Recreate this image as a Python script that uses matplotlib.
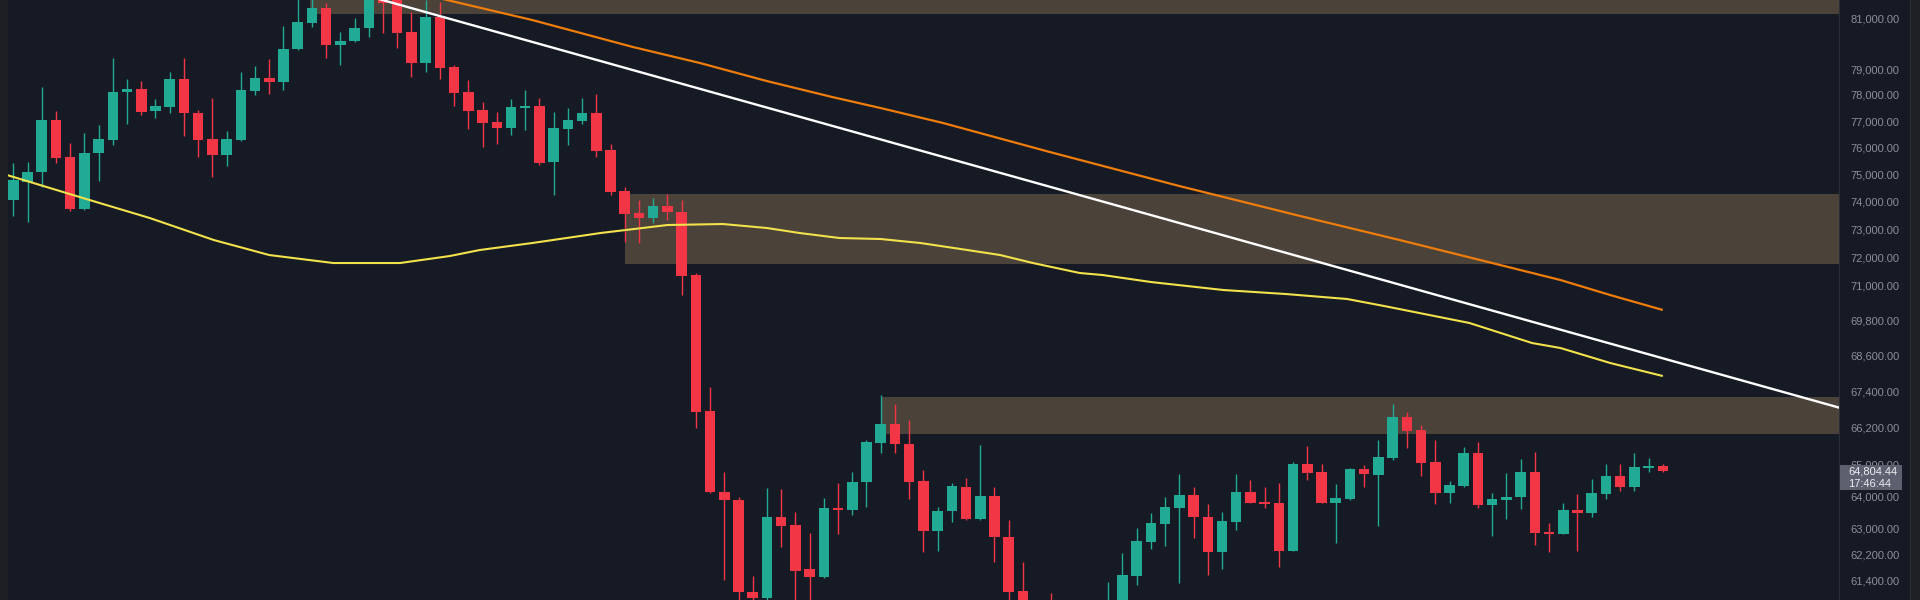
import matplotlib
matplotlib.use("Agg")
import matplotlib.pyplot as plt
from matplotlib.patches import Rectangle
from matplotlib.ticker import FixedLocator, NullLocator

plt.rcParams['font.family'] = ['Liberation Sans', 'DejaVu Sans']

# ---------------- data ----------------
opens = [74063, 74723, 75092, 77040, 75649, 73735, 75798, 76285, 78110, 78226,
         77383, 77536, 78612, 77307, 76323, 75723, 76285, 78149, 78651, 78496,
         79781, 80812, 81413, 79939, 80098, 80613, 82100, 81780, 80454, 79234,
         81052, 79078, 78110, 77421, 76964, 76737, 77497, 77574, 75463, 76700,
         77002, 77307, 75910, 74392, 73590, 73409, 73845, 73627, 71377, 66750,
         64139, 63887, 61056, 60875, 63354, 63104, 61752, 61509, 63636, 63573,
         64456, 65706, 66324, 65673, 64487, 62918, 63541, 64296, 63291, 64012,
         62733, 61086, 60400, 60600, 60250, 60500, 60300, 60400, 60700, 61539,
         62578, 63135, 63636, 64044, 63354, 62271, 63198, 64139, 63824, 63792,
         62302, 65030, 64774, 63792, 63918, 64870, 64678, 65222, 66553, 66128,
         65094, 64107, 64328, 65383, 63729, 63887, 63981, 64774, 62887, 62825,
         63573, 63479, 64075, 64646, 64296, 64902, 64966]
highs = [75425, 75463, 78303, 77383, 76172, 76549, 76851, 79429, 78612, 78534,
         77841, 78884, 79429, 77421, 77880, 76624, 78884, 79117, 79390, 80692,
         81860, 81820, 81615, 80454, 81012, 82400, 82500, 81900, 81253, 81735,
         81655, 79156, 78573, 77726, 77345, 77841, 78187, 77880, 77345, 77497,
         77880, 78033, 76135, 74539, 74063, 74136, 74282, 74063, 71450, 67545,
         64774, 63981, 61539, 64265, 64233, 63510, 62856, 63950, 64424, 64774,
         65803, 67279, 66981, 66455, 64838, 63667, 64424, 64583, 65641, 64296,
         63260, 61965, 60700, 61025, 60700, 60750, 60780, 61358, 62240, 63011,
         63479, 63981, 64710, 64296, 63761, 63510, 64710, 64519, 64296, 64424,
         65094, 65609, 65030, 64392, 64902, 64998, 65803, 66981, 66717, 66291,
         65803, 64487, 65576, 65738, 64107, 64742, 65190, 65415, 63166, 63792,
         64075, 64551, 65030, 65030, 65383, 65222, 65030]
lows = [73482, 73265, 74539, 75425, 73680, 73700, 74760, 76097, 76889, 77231,
        77116, 77307, 76436, 75649, 74908, 75314, 76250, 77995, 78033, 78187,
        79742, 80652, 79429, 79156, 80060, 80256, 80415, 79821, 78689, 78884,
        78612, 77574, 76700, 76022, 76135, 76473, 76662, 75351, 74246, 76097,
        76889, 75649, 74246, 72547, 72511, 73229, 73337, 70676, 66193, 64107,
        61418, 60600, 60700, 60700, 62424, 60500, 60550, 61480, 62825, 63416,
        63667, 65383, 65383, 63918, 62271, 62302, 63198, 63260, 63260, 61965,
        60650, 60100, 59900, 59950, 60000, 60050, 60150, 60250, 60450, 61267,
        62363, 62455, 61327, 62702, 61570, 61751, 62949, 63780, 63636, 61812,
        62290, 64519, 63780, 62547, 63900, 64296, 63073, 65158, 65544, 64646,
        63761, 63792, 64296, 63636, 62764, 63291, 63604, 62486, 62271, 62810,
        62302, 63354, 63918, 64170, 64170, 64774, 64760]
closes = [74797, 75092, 77040, 75612, 73735, 75798, 76323, 78110, 78226, 77345,
          77574, 78612, 77307, 76285, 75723, 76323, 78187, 78651, 78496, 79781,
          80852, 81413, 79939, 80098, 80613, 82000, 81615, 80415, 79234, 81052,
          79039, 78072, 77383, 76926, 76737, 77536, 77574, 75425, 76737, 77040,
          77307, 75873, 74356, 73554, 73409, 73845, 73627, 71342, 66717, 64139,
          63887, 61056, 60875, 63354, 63073, 61691, 61509, 63636, 63573, 64456,
          65738, 66324, 65673, 64456, 62918, 63541, 64328, 63291, 64012, 62733,
          61056, 60400, 60150, 60250, 60500, 60300, 60600, 60780, 61570, 62609,
          63166, 63667, 64044, 63354, 62271, 63229, 64139, 63792, 63761, 62302,
          65030, 64742, 63792, 63950, 64870, 64710, 65255, 66553, 66095, 65062,
          64107, 64360, 65383, 63729, 63918, 63981, 64774, 62856, 62825, 63573,
          63479, 64107, 64646, 64296, 64934, 64966, 64804.44]

# moving averages (read at candle positions)
ma_yellow_idx = [-0.9, 4.9, 9.6, 14.1, 18.0, 22.5, 24.9, 27.2, 30.7, 32.8, 36.5,
                 41.3, 46.0, 49.9, 53.0, 55.3, 58.1, 61.0, 63.8, 67.1, 69.4,
                 71.7, 75.0, 76.6, 80.0, 85.1, 89.5, 93.8, 96.4, 102.4, 106.8,
                 108.8, 112.3, 116.0]
ma_yellow_val = [75055, 74136, 73409, 72618, 72083, 71800, 71800, 71800, 72048,
                 72261, 72511, 72869, 73157, 73193, 73049, 72869, 72690, 72654,
                 72511, 72261, 72083, 71800, 71447, 71377, 71131, 70851, 70711,
                 70538, 70295, 69709, 69025, 68855, 68348, 67911]
ma_orange_idx = [28.0, 30.5, 36.5, 43.6, 48.3, 53.0, 57.6, 61.0, 65.4, 72.9,
                 82.0, 90.5, 97.5, 104.0, 108.8, 112.3, 116.0]
ma_orange_val = [82101, 81735, 80932, 79860, 79234, 78534, 77918, 77497, 76926,
                 75835, 74576, 73482, 72617, 71800, 71201, 70676, 70157]

trend_idx = [24.0, 128.5]
trend_val = [82050, 66848]

# supply / resistance zones: (start index, low price, high price)
zones = [(20.9, 81170, 82600), (43.0, 71780, 74270), (61.1, 66000, 67220)]

ytick_vals = [81000, 79000, 78000, 77000, 76000, 75000, 74000, 73000, 72000,
              71000, 69800, 68600, 67400, 66200, 65000, 64000, 63000, 62200, 61400]
last_price_label = "64,804.44"
countdown_label = "17:46:44"

# ---------------- style ----------------
BG = '#161a25'
UP = '#22ab94'
DN = '#f23645'
ZONE = '#4b4239'
W, H = 1920, 600
PLOT_W = 1839

fig = plt.figure(figsize=(W / 100, H / 100), dpi=100, facecolor=BG)
ax = fig.add_axes([0, 0, PLOT_W / W, 1])
ax.set_facecolor(BG)
ax.set_yscale('log')
ax.set_ylim(60815, 81735)
ax.set_xlim(-0.935, 128.39)

for s in ax.spines.values():
    s.set_visible(False)
ax.set_xticks([])

# zones
x_right = 128.39
for x0, lo, hi in zones:
    ax.add_patch(Rectangle((x0, lo), x_right - x0 + 1, hi - lo,
                           facecolor=ZONE, edgecolor='none', zorder=1))

# candles
idx = list(range(len(opens)))
colors = [UP if c >= o else DN for o, c in zip(opens, closes)]
ax.vlines(idx, lows, highs, colors=colors, linewidth=1.0, zorder=3)
bottoms = [min(o, c) for o, c in zip(opens, closes)]
heights = [max(abs(c - o), 25) for o, c in zip(opens, closes)]
ax.bar(idx, heights, bottom=bottoms, width=0.74, color=colors,
       edgecolor='none', zorder=4)

# MAs and trend line
ax.plot(ma_yellow_idx, ma_yellow_val, color='#f2e24c', lw=1.5, zorder=5,
        solid_capstyle='butt')
ax.plot(ma_orange_idx, ma_orange_val, color='#ef7d0c', lw=1.6, zorder=5,
        solid_capstyle='butt')
ax.plot(trend_idx, trend_val, color='#ffffff', lw=1.7, zorder=6)

# right price scale
ax.yaxis.tick_right()
ax.yaxis.set_major_locator(FixedLocator(ytick_vals))
ax.yaxis.set_minor_locator(NullLocator())
ax.set_yticklabels([f"{v:,.2f}" for v in ytick_vals])
ax.tick_params(axis='y', length=0, pad=8, labelsize=8, labelcolor='#8c8f99')

# separators / edges
fig.add_artist(Rectangle((PLOT_W / W, 0), 1.2 / W, 1, transform=fig.transFigure,
                         facecolor='#2a2e39', edgecolor='none', zorder=3))
fig.add_artist(Rectangle((1911 / W, 0), 9 / W, 1, transform=fig.transFigure,
                         facecolor='#1f2023', edgecolor='none', zorder=3))
fig.add_artist(Rectangle((1910 / W, 0), 1.2 / W, 1, transform=fig.transFigure,
                         facecolor='#2a2e39', edgecolor='none', zorder=3))
fig.add_artist(Rectangle((0, 0), 8 / W, 1, transform=fig.transFigure,
                         facecolor='#1e1f22', edgecolor='none', zorder=3))

# last price label
fig.add_artist(Rectangle((1840 / W, (H - 490) / H), 62 / W, 25 / H,
                         transform=fig.transFigure, facecolor='#5d616f',
                         edgecolor='none', zorder=5))
fig.text(1848 / W, (H - 472) / H, last_price_label, color='#eceef2', fontsize=8,
         va='center', ha='left', zorder=6)
fig.text(1848 / W, (H - 484) / H, countdown_label, color='#eceef2', fontsize=8,
         va='center', ha='left', zorder=6)

fig.savefig('out.png', dpi=100, facecolor=BG)
